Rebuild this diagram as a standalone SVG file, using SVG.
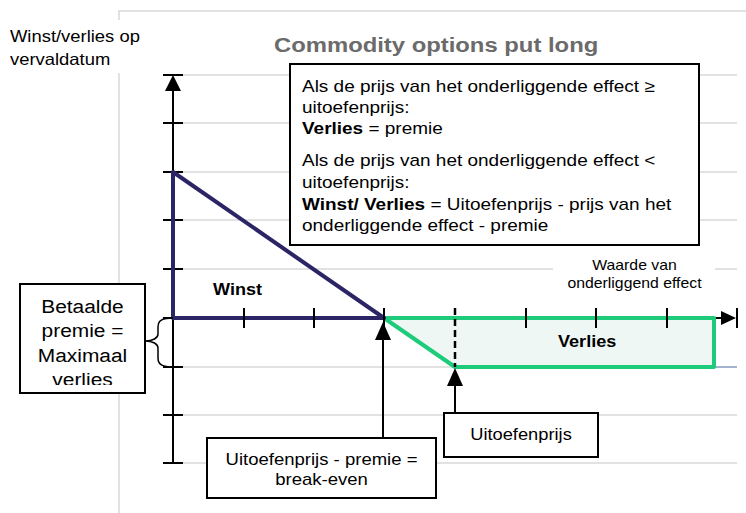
<svg xmlns="http://www.w3.org/2000/svg" width="746" height="513" viewBox="0 0 746 513">
<style>
.t{font-family:"Liberation Sans",Arial,sans-serif;fill:#000}
.b{font-weight:bold}
.grid{stroke:#d9d9d9;stroke-width:1.5;fill:none}
.ax{stroke:#000;stroke-width:2;fill:none}
.box{fill:#fff;stroke:#000;stroke-width:2}
.pay{stroke:#2b2566;stroke-width:4;fill:none;stroke-linejoin:round}
.tk{stroke:#000;stroke-width:2}
</style>
<defs>
<clipPath id="clipBet"><rect x="20" y="284" width="125" height="101"/></clipPath>
</defs>
<rect width="746" height="513" fill="#fff"/>
<g id="frame">
<line class="grid" x1="118" y1="11" x2="746" y2="11"/>
<line class="grid" x1="119" y1="11" x2="119" y2="513"/>
<line class="grid" x1="173" y1="75" x2="737" y2="75"/>
<line class="grid" x1="173" y1="123" x2="737" y2="123"/>
<line class="grid" x1="173" y1="172" x2="737" y2="172"/>
<line class="grid" x1="173" y1="220" x2="737" y2="220"/>
<line class="grid" x1="173" y1="269" x2="737" y2="269"/>
<line class="grid" x1="173" y1="367" x2="737" y2="367"/>
<line class="grid" x1="173" y1="415" x2="737" y2="415"/>
<line class="grid" x1="173" y1="463" x2="737" y2="463"/>
<line x1="714" y1="367" x2="737" y2="367" stroke="#8ea3c6" stroke-width="1.5"/>
</g>
<g id="ylabel">
<rect x="0" y="20" width="150" height="53" fill="#fff"/>
<g transform="translate(10,42) scale(1.13,1)"><text class="t" font-size="16.3" x="0" y="0">Winst/verlies op</text><text class="t" font-size="16.3" x="0" y="23">vervaldatum</text></g>
</g>
<g id="title"><text class="t b" font-size="21" style="fill:#6b6b6b" transform="translate(274,52) scale(1.135,1)">Commodity options put long</text></g>
<g id="axes">
<line class="ax" x1="173" y1="80" x2="173" y2="463"/>
<path d="M173,75 L181,91 L165,91 Z" fill="#000"/>
<line class="tk" x1="163" y1="75" x2="183" y2="75"/>
<line class="tk" x1="163" y1="123" x2="183" y2="123"/>
<line class="tk" x1="163" y1="172" x2="183" y2="172"/>
<line class="tk" x1="163" y1="220" x2="183" y2="220"/>
<line class="tk" x1="163" y1="269" x2="183" y2="269"/>
<line class="tk" x1="163" y1="318" x2="183" y2="318"/>
<line class="tk" x1="163" y1="367" x2="183" y2="367"/>
<line class="tk" x1="163" y1="415" x2="183" y2="415"/>
<line class="tk" x1="163" y1="463" x2="183" y2="463"/>
</g>
<g id="xaxis">
<line class="ax" x1="384" y1="318" x2="722" y2="318"/>
<path d="M736,318 L721,311 L721,325 Z" fill="#000"/>
<line class="tk" x1="737" y1="308" x2="737" y2="328"/>
</g>
<g id="verlies-area">
<path d="M384,318 L455,367 L714,367 L714,318 Z" fill="#eef7f3" stroke="#1ecb7b" stroke-width="4" stroke-linejoin="round"/>
<line class="tk" x1="526" y1="308" x2="526" y2="328"/>
<line class="tk" x1="596" y1="308" x2="596" y2="328"/>
<line class="tk" x1="667" y1="308" x2="667" y2="328"/>
<line x1="455" y1="308" x2="455" y2="367" stroke="#000" stroke-width="2.5" stroke-dasharray="7,4"/>
<text class="t b" font-size="16" transform="translate(558,347) scale(1.13,1)">Verlies</text>
</g>
<g id="payoff">
<path class="pay" d="M173,318 L173,172 L384,318 Z"/>
<line class="tk" x1="244" y1="308" x2="244" y2="328"/>
<line class="tk" x1="314" y1="308" x2="314" y2="328"/>
<line class="tk" x1="384" y1="308" x2="384" y2="328"/>
<text class="t b" font-size="16" transform="translate(213,295) scale(1.13,1)">Winst</text>
</g>
<g id="xlabel">
<rect x="553" y="258" width="162" height="34" fill="#fff"/>
<g transform="translate(634.5,270) scale(1.13,1)"><text class="t" font-size="14" text-anchor="middle" x="0" y="0">Waarde van</text><text class="t" font-size="14" text-anchor="middle" x="0" y="17.7">onderliggend effect</text></g>
</g>
<g id="info-box">
<rect class="box" x="290" y="64" width="409" height="181"/>
<g transform="translate(302,0) scale(1.13,1)" font-size="16.8">
<text class="t" x="0" y="92">Als de prijs van het onderliggende effect ≥</text>
<text class="t" x="0" y="113">uitoefenprijs:</text>
<text class="t" x="0" y="134.5"><tspan font-weight="bold">Verlies</tspan> = premie</text>
<text class="t" x="0" y="166.5">Als de prijs van het onderliggende effect &lt;</text>
<text class="t" x="0" y="188">uitoefenprijs:</text>
<text class="t" x="0" y="210"><tspan font-weight="bold">Winst/ Verlies</tspan> = Uitoefenprijs - prijs van het</text>
<text class="t" x="0" y="231.5">onderliggende effect - premie</text>
</g>
</g>
<g id="premie-box">
<rect class="box" x="20" y="284" width="125" height="109"/>
<g clip-path="url(#clipBet)">
<g transform="translate(82.5,0) scale(1.1,1)" font-size="19">
<text class="t" text-anchor="middle" x="0" y="313.3">Betaalde</text>
<text class="t" text-anchor="middle" x="0" y="337.5">premie =</text>
<text class="t" text-anchor="middle" x="0" y="361.7">Maximaal</text>
<text class="t" text-anchor="middle" x="0" y="386.5">verlies</text>
</g>
</g>
<path d="M173,318 C163,318 158,320 158,327 L158,334 C158,338 153,341 145,341 C153,341 158,344 158,348 L158,358 C158,365 163,367 173,367" fill="none" stroke="#000" stroke-width="1.5"/>
</g>
<g id="breakeven-box">
<line x1="383" y1="336" x2="383" y2="438" stroke="#000" stroke-width="2"/>
<path d="M383,322 L391,340 L375,340 Z" fill="#000"/>
<rect class="box" x="207" y="438" width="229" height="60"/>
<g transform="translate(321.5,0) scale(1.13,1)" font-size="16.4">
<text class="t" text-anchor="middle" x="0" y="465">Uitoefenprijs - premie =</text>
<text class="t" text-anchor="middle" x="0" y="485.5">break-even</text>
</g>
</g>
<g id="strike-box">
<line x1="455" y1="382" x2="455" y2="413" stroke="#000" stroke-width="2"/>
<path d="M455,368 L463,386 L447,386 Z" fill="#000"/>
<rect class="box" x="444" y="413" width="154" height="44"/>
<text class="t" font-size="16.2" text-anchor="middle" transform="translate(521,439.5) scale(1.13,1)">Uitoefenprijs</text>
</g>
</svg>
